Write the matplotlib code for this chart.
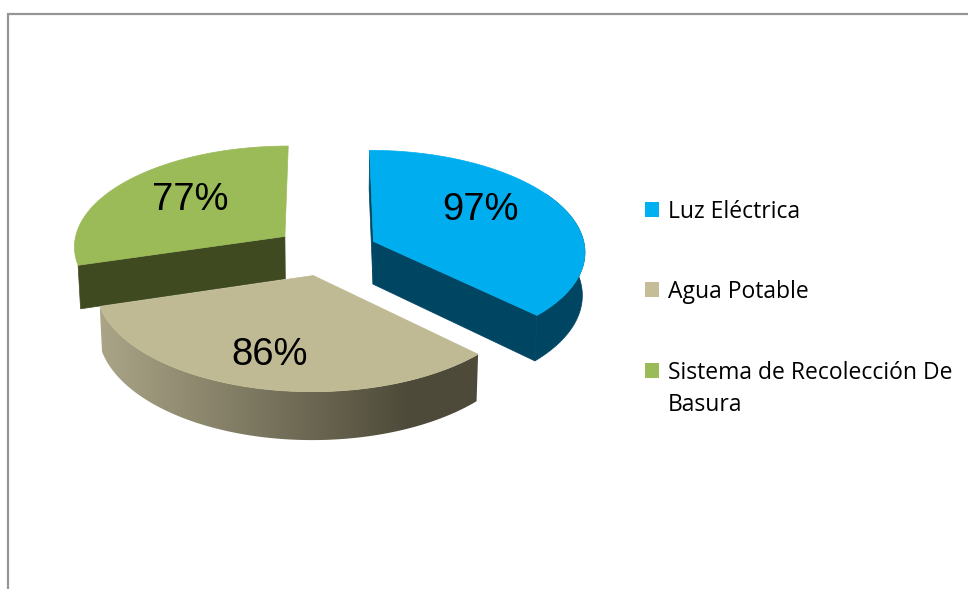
import numpy as np
import matplotlib
matplotlib.use('Agg')
import matplotlib.pyplot as plt
from matplotlib.patches import Polygon, Rectangle
from matplotlib.colors import LinearSegmentedColormap

categories = ['Luz Eléctrica', 'Agua Potable', 'Sistema de Recolección De\nBasura']
values = [97, 86, 77]
top_colors = ['#00AEEF', '#BFBA93', '#9BBB59']
legend_colors = ['#00B0F0', '#C4BD97', '#9BBB59']
wall_colors = ['#004561', '#404A20']
tan_gradient = ['#AAA587', '#4E4A39']

# pie "camera", in pixels
CX, CY = 326, 251
RX, RY = 212, 101
PERSP = 0.09
EXPLODE = 0.245
HEIGHT = 43
Z_SHRINK = 0.99


def project(x, y, down=False):
    # y is depth, positive towards the viewer
    s = 1 / (1 - PERSP * y)
    px = RX * x * s
    py = RY * y * s
    if down:
        return CX + px * Z_SHRINK, CY + py + HEIGHT * s
    return CX + px, CY + py


def arc_points(a0, a1, n=120):
    t = np.radians(np.linspace(a0, a1, n))
    return np.sin(t), -np.cos(t)


def wall_polygon(xs, ys):
    tx, ty = project(xs, ys)
    bx, by = project(xs, ys, True)
    return np.c_[np.r_[tx, bx[::-1]], np.r_[ty, by[::-1]]]


fig = plt.figure(figsize=(9.68, 5.89), dpi=100)
ax = fig.add_axes([0, 0, 1, 1])

# frame, only top and left are in the picture
ax.plot([7.5, 7.5, 968], [589, 14, 14], color='#959595', lw=1.6, solid_joinstyle='miter')

angles = np.concatenate([[0], np.cumsum(values) * 360 / sum(values)])
offsets = []
for i in range(3):
    mid = np.radians((angles[i] + angles[i + 1]) / 2)
    offsets.append((EXPLODE * np.sin(mid), -EXPLODE * np.cos(mid)))


def draw_top(i):
    ox, oy = offsets[i]
    xs, ys = arc_points(angles[i], angles[i + 1])
    px, py = project(np.r_[ox, xs + ox], np.r_[oy, ys + oy])
    ax.add_patch(Polygon(np.c_[px, py], closed=True, fc=top_colors[i], ec=top_colors[i], lw=0.5))


def cut_face(i, j, color):
    ox, oy = offsets[i]
    xs, ys = arc_points(angles[i], angles[i + 1])
    x, y = xs[j] + ox, ys[j] + oy
    p = [project(ox, oy), project(x, y), project(x, y, True), project(ox, oy, True)]
    ax.add_patch(Polygon(p, closed=True, fc=color, ec=color, lw=0.5))


# green at the back, only its near cut face shows
cut_face(2, 0, wall_colors[1])
draw_top(2)

# blue
cut_face(0, 0, wall_colors[0])
cut_face(0, -1, wall_colors[0])
xs, ys = arc_points(angles[0] + 60, angles[1])
ax.add_patch(Polygon(wall_polygon(xs + offsets[0][0], ys + offsets[0][1]), closed=True,
                     fc=wall_colors[0], ec=wall_colors[0], lw=0.5))
draw_top(0)

# tan in front, wall carries a left to right gradient
xs, ys = arc_points(angles[1], angles[2])
poly = Polygon(wall_polygon(xs + offsets[1][0], ys + offsets[1][1]), closed=True, fc='none', ec='none')
ax.add_patch(poly)
cmap = LinearSegmentedColormap.from_list('tan_wall', tan_gradient)
im = ax.imshow(np.linspace(0, 1, 256).reshape(1, -1), cmap=cmap, aspect='auto',
               extent=[100, 410, 450, 270], zorder=1)
im.set_clip_path(poly)
# right of the gradient it stays flat
right_part = Polygon([(410, 270), (490, 270), (490, 450), (410, 450)], fc=tan_gradient[1], ec='none', zorder=1)
ax.add_patch(right_part)
right_part.set_clip_path(poly)
draw_top(1)

ax.set_xlim(0, 968)
ax.set_ylim(589, 0)
ax.axis('off')

# percent labels
label_pos = [(480, 220), (270, 365), (190, 210)]
for v, (x, y) in zip(values, label_pos):
    ax.text(x, y, f'{v}%', ha='center', va='baseline', fontsize=27.5,
            family='Liberation Sans', color='black', zorder=5)

# legend
swatch_y = [202, 282, 363]
text_y = [218, 298, 379]
for name, col, sy, ty in zip(categories, legend_colors, swatch_y, text_y):
    ax.add_patch(Rectangle((645, sy), 14, 15, fc=col, ec='none'))
    for n, line in enumerate(name.split('\n')):
        ax.text(668, ty + n * 32, line, ha='left', va='baseline', fontsize=16.5,
                family='Open Sans', color='black')

fig.savefig('out.png', dpi=100, facecolor='white')
